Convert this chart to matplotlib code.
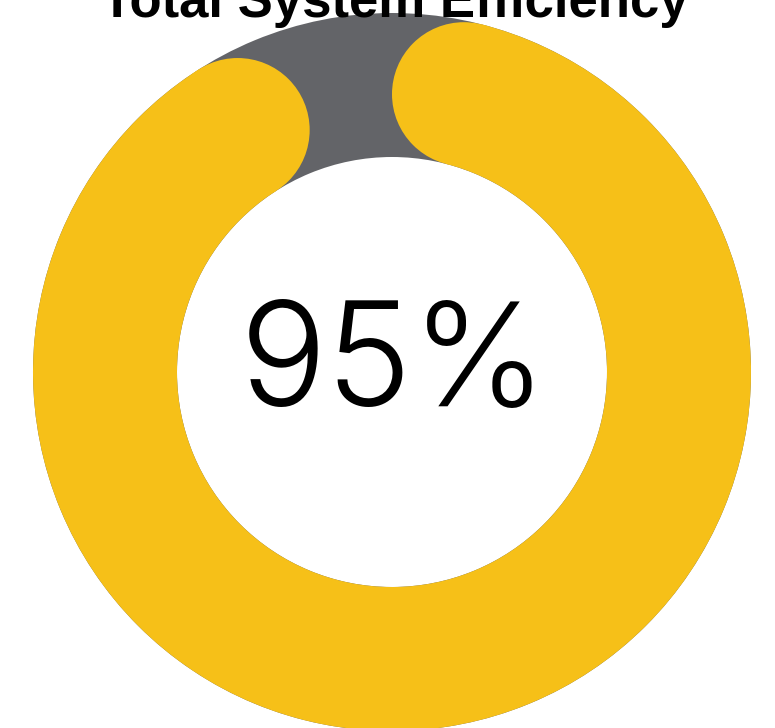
import numpy as np
import matplotlib.pyplot as plt
from matplotlib.patches import Wedge, Circle

title = "Total System Efficiency"
efficiency = 95  # percent
track_color = "#636468"
fill_color = "#F6C018"

W, H = 775, 728
fig = plt.figure(figsize=(W / 100, H / 100), dpi=100)
ax = fig.add_axes([0, 0, 1, 1])
ax.set_xlim(0, W)
ax.set_ylim(0, H)
ax.set_aspect("equal")
ax.axis("off")

cx, cy = 392, 356
r_out, r_in = 359, 215
band = r_out - r_in
r_mid = (r_out + r_in) / 2
cap = band / 2

# grey track behind the gauge
ax.add_patch(Wedge((cx, cy), r_out, 0, 360, width=band, color=track_color, lw=0))

# filled arc, clockwise from 12 o'clock; round ends count towards the span
span = efficiency / 100 * 360
cap_deg = np.degrees(np.arcsin(cap / r_mid))
start = cap_deg
end = span - cap_deg
ax.add_patch(Wedge((cx, cy), r_out, 90 - end, 90 - start, width=band,
                   color=fill_color, lw=0))
for a in (start, end):
    t = np.radians(90 - a)
    ax.add_patch(Circle((cx + r_mid * np.cos(t), cy + r_mid * np.sin(t)), cap,
                        color=fill_color, lw=0))

ax.text(cx + 3, H - 17, title, ha="center", va="baseline", fontsize=38,
        fontweight="bold", family="Liberation Sans", color="black")
ax.text(cx + 2, H - 406, f"{efficiency}%", ha="center", va="baseline", fontsize=104,
        fontweight=300, family="Inter", color="black")

fig.savefig("out.png", dpi=100)
